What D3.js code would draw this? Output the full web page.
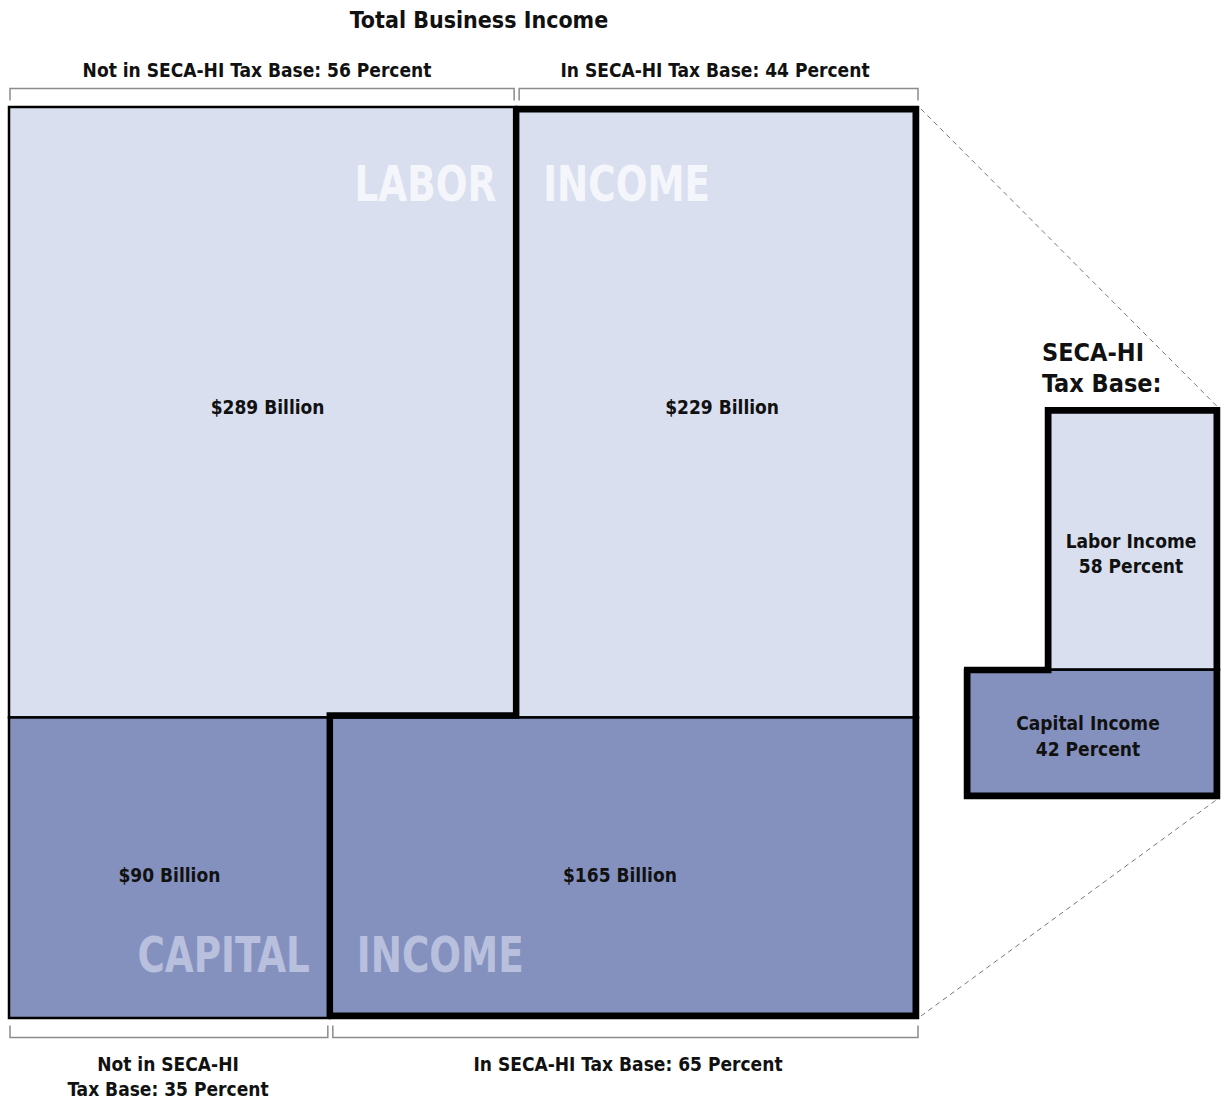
<!DOCTYPE html>
<html>
<head>
<meta charset="utf-8">
<script src="https://cdn.jsdelivr.net/npm/d3@7"></script>
<style>
  body { margin: 0; background: #fff; }
  svg text { font-family: "DejaVu Sans Condensed", "DejaVu Sans", sans-serif; font-stretch: condensed; font-weight: bold; }
</style>
</head>
<body>
<svg id="chart" width="1225" height="1101"></svg>
<script>
// Data ($ billions)
var categories = ['Labor', 'Capital'];
var notInBase = [289, 90];
var inBase = [229, 165];
var watermarks = [['LABOR', 'INCOME'], ['CAPITAL', 'INCOME']];

// Colors
var COLORS = {
  LABOR: '#D9DFEF',
  CAPITAL: '#8491BE',
  LABOR_MARK: '#F4F6FB',
  CAPITAL_MARK: '#B8C0DE',
  BRACKET: '#8C8C8C',
  TEXT: '#111'
};

var THIN = 2.5, THICK = 6.5;

var svg = d3.select('#chart');

var rowTotals = categories.map(function(c, i) { return notInBase[i] + inBase[i]; });
var total = d3.sum(rowTotals);

// Main square
var mLeft = 9, mRight = 918, mTop = 107, mBottom = 1018;
var y = d3.scaleLinear().domain([0, total]).range([mTop, mBottom]);
var rowTop = [y(0), y(rowTotals[0])];
var rowBottom = [y(rowTotals[0]), y(total)];

var cells = [];
categories.forEach(function(c, i) {
  var x = d3.scaleLinear().domain([0, rowTotals[i]]).range([mLeft, mRight]);
  cells.push({row: i, inBase: false, value: notInBase[i], x0: x(0), x1: x(notInBase[i]), y0: rowTop[i], y1: rowBottom[i]});
  cells.push({row: i, inBase: true, value: inBase[i], x0: x(notInBase[i]), x1: x(rowTotals[i]), y0: rowTop[i], y1: rowBottom[i]});
});

svg.selectAll('rect.cell')
  .data(cells)
  .enter().append('rect')
  .attr('class', 'cell')
  .attr('x', function(d) { return d.x0; })
  .attr('y', function(d) { return d.y0; })
  .attr('width', function(d) { return d.x1 - d.x0; })
  .attr('height', function(d) { return d.y1 - d.y0; })
  .attr('fill', function(d) { return d.row === 0 ? COLORS.LABOR : COLORS.CAPITAL; })
  .attr('stroke', '#000')
  .attr('stroke-width', THIN);

// Watermark words (squeezed horizontally, the original face is narrow)
cells.forEach(function(d) {
  var mark = watermarks[d.row][d.inBase ? 1 : 0];
  var tx = d.inBase ? d.x0 + 27 : d.x1 - 20;
  var ty = d.row === 0 ? d.y0 + 94 : d.y1 - 46;
  svg.append('text')
    .attr('transform', 'translate(' + tx + ',' + ty + ') scale(0.83,1)')
    .attr('text-anchor', d.inBase ? 'start' : 'end')
    .attr('font-size', '50px')
    .attr('fill', d.row === 0 ? COLORS.LABOR_MARK : COLORS.CAPITAL_MARK)
    .text(mark);
});

// Value labels
var labelShift = [[5, 5], [0, -4]];
svg.selectAll('text.value')
  .data(cells)
  .enter().append('text')
  .attr('class', 'value')
  .attr('x', function(d) { return (d.x0 + d.x1) / 2 + labelShift[d.row][d.inBase ? 1 : 0]; })
  .attr('y', function(d) { return (d.y0 + d.y1) / 2 + (d.row === 0 ? 2 : 14); })
  .attr('text-anchor', 'middle')
  .attr('font-size', '19px')
  .attr('fill', COLORS.TEXT)
  .text(function(d) { return '$' + d.value + ' Billion'; });

// Thick outline around the in-base cells
var lab = cells[1], cap = cells[3];
var off = THICK / 2 - 1;
svg.append('path')
  .attr('d', d3.line()([
    [lab.x0, lab.y0 + off], [lab.x1 - off, lab.y0 + off], [cap.x1 - off, cap.y1 - off],
    [cap.x0, cap.y1 - off], [cap.x0, cap.y0 - 2], [lab.x0, cap.y0 - 2]
  ]) + 'Z')
  .attr('fill', 'none')
  .attr('stroke', '#000')
  .attr('stroke-width', THICK)
  .attr('stroke-linejoin', 'miter');

// Brackets
function bracket(x0, x1, yb, dir) {
  svg.append('path')
    .attr('d', d3.line()([[x0, yb + dir * 12], [x0, yb], [x1, yb], [x1, yb + dir * 12]]))
    .attr('fill', 'none')
    .attr('stroke', COLORS.BRACKET)
    .attr('stroke-width', 1.5);
}
function pct(v, t) { return Math.round(v / t * 100); }

bracket(cells[0].x0 + 1, cells[0].x1 - 2, 88.5, 1);
bracket(cells[1].x0 + 3, cells[1].x1, 88.5, 1);
bracket(cells[2].x0 + 1, cells[2].x1 - 2, 1037.5, -1);
bracket(cells[3].x0 + 3, cells[3].x1, 1037.5, -1);

function label(lines, x, y0, size, anchor, lh) {
  var t = svg.append('text')
    .attr('x', x).attr('y', y0)
    .attr('text-anchor', anchor || 'middle')
    .attr('font-size', size + 'px')
    .attr('fill', COLORS.TEXT);
  lines.forEach(function(l, i) {
    t.append('tspan').attr('x', x).attr('dy', i ? (lh || size * 1.2) : 0).text(l);
  });
}

label(['Total Business Income'], 479, 28, 23);
label(['Not in SECA-HI Tax Base: ' + pct(notInBase[0], rowTotals[0]) + ' Percent'], 257, 77, 19);
label(['In SECA-HI Tax Base: ' + pct(inBase[0], rowTotals[0]) + ' Percent'], 715, 77, 19);
label(['Not in SECA-HI', 'Tax Base: ' + pct(notInBase[1], rowTotals[1]) + ' Percent'], 168, 1071, 19, 'middle', 25);
label(['In SECA-HI Tax Base: ' + pct(inBase[1], rowTotals[1]) + ' Percent'], 628, 1071, 19);

// Small box: SECA-HI tax base, area proportional
var baseTotal = d3.sum(inBase);
var area = d3.scaleLinear().domain([0, baseTotal]).range([0, baseTotal * 197.5]);
var sRight = 1219, sBottom = 798;
var widths = [173, 254];
var capH = area(inBase[1]) / widths[1];
var labH = area(inBase[0]) / widths[0];
var small = [
  {row: 0, value: inBase[0], x0: sRight - widths[0], x1: sRight, y0: sBottom - capH - labH, y1: sBottom - capH},
  {row: 1, value: inBase[1], x0: sRight - widths[1], x1: sRight, y0: sBottom - capH, y1: sBottom}
];

svg.selectAll('rect.small')
  .data(small)
  .enter().append('rect')
  .attr('class', 'small')
  .attr('x', function(d) { return d.x0; })
  .attr('y', function(d) { return d.y0; })
  .attr('width', function(d) { return d.x1 - d.x0; })
  .attr('height', function(d) { return d.y1 - d.y0; })
  .attr('fill', function(d) { return d.row === 0 ? COLORS.LABOR : COLORS.CAPITAL; })
  .attr('stroke', '#000')
  .attr('stroke-width', THIN);

var sl = small[0], sc = small[1];
svg.append('path')
  .attr('d', d3.line()([
    [sl.x0 + off, sl.y0 + off], [sl.x1 - off, sl.y0 + off], [sc.x1 - off, sc.y1 - off],
    [sc.x0 + off, sc.y1 - off], [sc.x0 + off, sc.y0 + off - 2], [sl.x0 + off, sc.y0 + off - 2]
  ]) + 'Z')
  .attr('fill', 'none')
  .attr('stroke', '#000')
  .attr('stroke-width', THICK)
  .attr('stroke-linejoin', 'miter');

label(['Labor Income', pct(inBase[0], baseTotal) + ' Percent'], 1131, 548, 19, 'middle', 25);
label(['Capital Income', pct(inBase[1], baseTotal) + ' Percent'], 1088, 730, 19, 'middle', 26);
label(['SECA-HI', 'Tax Base:'], 1042, 361, 25, 'start', 31);

// Dashed connector lines
[[[mRight + 3, mTop + 2], [sRight, sl.y0]], [[mRight + 3, mBottom - 2], [sRight, sBottom]]].forEach(function(seg) {
  svg.append('path')
    .attr('d', d3.line()(seg))
    .attr('stroke', '#777')
    .attr('stroke-width', 1)
    .attr('stroke-dasharray', '5,4');
});
</script>
</body>
</html>
